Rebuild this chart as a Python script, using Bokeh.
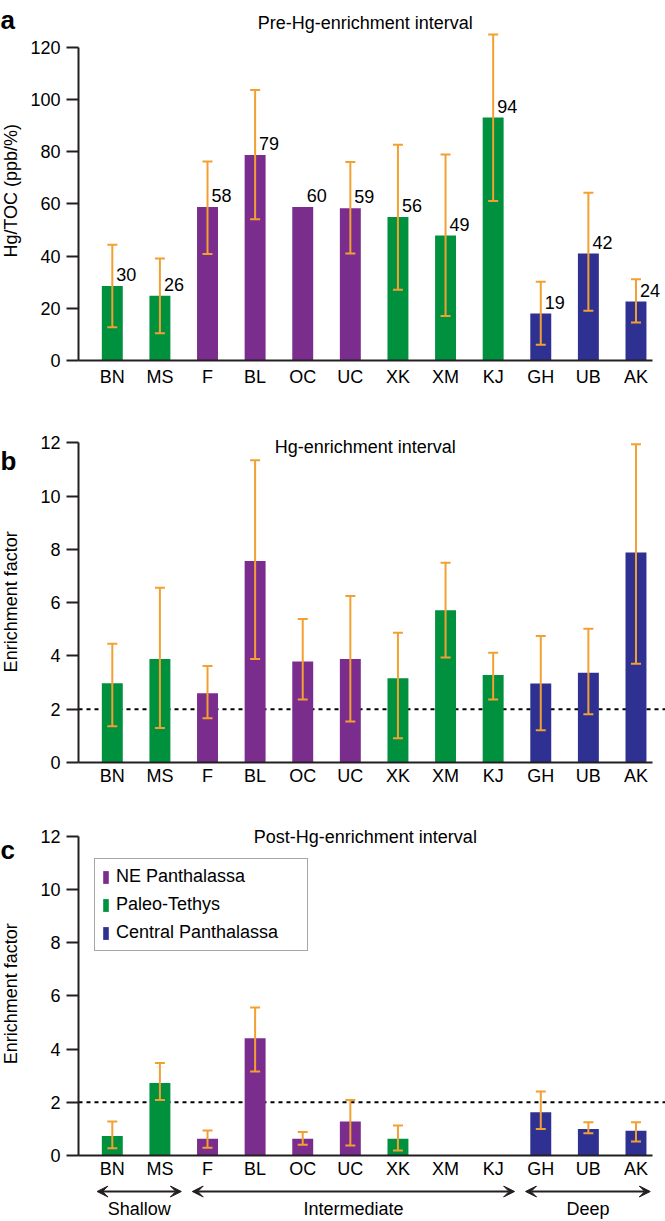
import math
from bokeh.plotting import figure
from bokeh.layouts import column, row
from bokeh.models import (Range1d, FixedTicker, ColumnDataSource, Whisker, TeeHead,
                          Span, Label, LabelSet, Arrow, VeeHead, Legend, LegendItem)
from bokeh.core.properties import value
from bokeh.embed import file_html
from bokeh.resources import INLINE

# ---------------- data ----------------
sites = ["BN", "MS", "F", "BL", "OC", "UC", "XK", "XM", "KJ", "GH", "UB", "AK"]
regions = ["Paleo-Tethys", "Paleo-Tethys", "NE Panthalassa", "NE Panthalassa",
           "NE Panthalassa", "NE Panthalassa", "Paleo-Tethys", "Paleo-Tethys",
           "Paleo-Tethys", "Central Panthalassa", "Central Panthalassa",
           "Central Panthalassa"]
depth_groups = ["Shallow", "Intermediate", "Deep"]
depth_of_site = ["Shallow"] * 2 + ["Intermediate"] * 7 + ["Deep"] * 3

pre_mean = [28.6, 24.8, 58.8, 78.8, 58.8, 58.4, 55.0, 47.9, 93.1, 18.0, 41.0, 22.6]
pre_upper = [44.4, 39.1, 76.3, 103.7, None, 76.1, 82.7, 79.0, 125.0, 30.2, 64.3, 31.1]
pre_lower = [12.7, 10.4, 40.8, 54.1, None, 41.0, 27.1, 17.1, 61.1, 6.0, 19.1, 14.6]
pre_labels = ["30", "26", "58", "79", "60", "59", "56", "49", "94", "19", "42", "24"]

hg_mean = [2.97, 3.88, 2.60, 7.56, 3.79, 3.88, 3.16, 5.71, 3.28, 2.96, 3.37, 7.88]
hg_upper = [4.46, 6.56, 3.62, 11.34, 5.38, 6.25, 4.87, 7.50, 4.12, 4.75, 5.02, 11.94]
hg_lower = [1.36, 1.29, 1.66, 3.88, 2.36, 1.54, 0.91, 3.94, 2.36, 1.21, 1.81, 3.71]

post_mean = [0.73, 2.73, 0.63, 4.41, 0.63, 1.28, 0.63, None, None, 1.63, 1.00, 0.93]
post_upper = [1.28, 3.48, 0.94, 5.56, 0.88, 2.09, 1.13, None, None, 2.41, 1.25, 1.25]
post_lower = [0.27, 2.09, 0.29, 3.16, 0.40, 0.38, 0.19, None, None, 1.00, 0.84, 0.53]

threshold = 2

# ---------------- style ----------------
FONT = "Liberation Sans"
AX = "#231f20"
ERR = "#F2A032"
region_colors = {"NE Panthalassa": "#7B2D8E", "Paleo-Tethys": "#00913F",
                 "Central Panthalassa": "#2E3192"}

XS, XE = -0.71, 11.62      # x range of the plot frames
XAX_END = 11.34            # where the drawn x axis line stops
SIDE_W = 22                # narrow strip holding panel letter + y label
PANEL_W = 665 - SIDE_W


def nan(v):
    return float("nan") if v is None else v


def side_strip(height, letter, letter_base, ylabel, ylabel_center):
    s = figure(width=SIDE_W, height=height, output_backend="svg", toolbar_location=None,
               x_range=Range1d(0, SIDE_W), y_range=Range1d(0, height),
               x_axis_location=None, y_axis_location=None, title=None,
               min_border_left=0, min_border_right=0, min_border_top=0,
               min_border_bottom=0)
    s.outline_line_color = None
    s.xgrid.visible = False
    s.ygrid.visible = False
    s.add_layout(Label(x=0, y=height - letter_base, text=letter, text_font=FONT,
                       text_font_size="26px", text_font_style="bold",
                       text_align="left", text_baseline="alphabetic",
                       text_color="black"))
    s.add_layout(Label(x=10, y=height - ylabel_center, text=ylabel, text_font=FONT,
                       text_font_size="18px", text_align="center",
                       text_baseline="middle", angle=math.pi / 2, text_color="black"))
    return s


def make_panel(title, mean, upper, lower, y_end, tick_max, tick_step,
               height, b_top, b_bottom, x_standoff, title_y, dashed):
    p = figure(width=PANEL_W, height=height, output_backend="svg", toolbar_location=None,
               x_range=Range1d(XS, XE), y_range=Range1d(0, y_end), title=None,
               min_border_left=78 - SIDE_W, min_border_right=0, min_border_top=b_top,
               min_border_bottom=b_bottom)
    p.outline_line_color = None
    p.xgrid.visible = False
    p.ygrid.visible = False

    x = list(range(len(sites)))
    src = ColumnDataSource(dict(x=x, top=[nan(v) for v in mean],
                                color=[region_colors[r] for r in regions]))
    bars = p.vbar(x="x", top="top", width=0.44, fill_color="color", line_color=None,
                  source=src)

    if dashed:
        p.add_layout(Span(location=threshold, dimension="width", line_color="black",
                          line_dash="4 4", line_width=2, level="underlay"))

    idx = [i for i in x if upper[i] is not None]
    wsrc = ColumnDataSource(dict(base=[x[i] for i in idx], upper=[upper[i] for i in idx],
                                 lower=[lower[i] for i in idx]))
    p.add_layout(Whisker(base="base", upper="upper", lower="lower", source=wsrc,
                         level="annotation", line_color=ERR, line_width=2,
                         upper_head=TeeHead(size=10, line_color=ERR, line_width=2),
                         lower_head=TeeHead(size=10, line_color=ERR, line_width=2)))

    xa = p.xaxis[0]
    xa.ticker = FixedTicker(ticks=x)
    xa.major_label_overrides = {i: s for i, s in zip(x, sites)}
    xa.bounds = (XS, XAX_END)
    xa.major_tick_line_color = None
    xa.minor_tick_line_color = None
    xa.axis_line_color = AX
    xa.axis_line_width = 2
    xa.major_label_standoff = x_standoff
    xa.major_label_text_font = FONT
    xa.major_label_text_font_size = "18px"
    xa.major_label_text_color = "black"

    ya = p.yaxis[0]
    ya.ticker = FixedTicker(ticks=list(range(0, tick_max + 1, tick_step)))
    ya.bounds = (0, tick_max)
    ya.axis_line_color = AX
    ya.axis_line_width = 2
    ya.major_tick_out = 12
    ya.major_tick_in = 0
    ya.major_tick_line_color = AX
    ya.major_tick_line_width = 2
    ya.minor_tick_line_color = None
    ya.major_label_standoff = 6
    ya.major_label_text_font = FONT
    ya.major_label_text_font_size = "18px"
    ya.major_label_text_color = "black"

    p.add_layout(Label(x=(XS + XAX_END) / 2, y=title_y, text=title, text_font=FONT,
                       text_font_size="18px", text_align="center",
                       text_baseline="alphabetic", text_color="black"))
    return p, bars, src


# panel a
HA, HB, HC, HD = 390, 400, 395, 36
pa, bars_a, src_a = make_panel("Pre-Hg-enrichment interval", pre_mean, pre_upper,
                               pre_lower, 354 / 2.609, 120, 20, HA, 6, 30, 0, 129.3, False)
src_a.data["label"] = pre_labels
pa.add_layout(LabelSet(x="x", y="top", text="label", source=src_a, x_offset=4,
                       y_offset=5, text_font=value(FONT), text_font_size="18px",
                       text_align="left", text_baseline="alphabetic",
                       text_color="black"))
sa = side_strip(HA, "a", 15, "Hg/TOC (ppb/%)", 203)

# panel b
pb, bars_b, _ = make_panel("Hg-enrichment interval", hg_mean, hg_upper, hg_lower,
                           340 / 26.65, 12, 2, HB, 32, 28, -3, 11.83, True)
sb = side_strip(HB, "b", 45, "Enrichment factor", 211)

# panel c
pc, bars_c, _ = make_panel("Post-Hg-enrichment interval", post_mean, post_upper,
                           post_lower, 340 / 26.6, 12, 2, HC, 25, 30, -3, 11.97, True)
sc = side_strip(HC, "c", 40, "Enrichment factor", 207)

legend = Legend(items=[
    LegendItem(label="NE Panthalassa", renderers=[bars_c],
               index=regions.index("NE Panthalassa")),
    LegendItem(label="Paleo-Tethys", renderers=[bars_c],
               index=regions.index("Paleo-Tethys")),
    LegendItem(label="Central Panthalassa", renderers=[bars_c],
               index=regions.index("Central Panthalassa")),
], location=(16, 204))
legend.border_line_color = "#4d4d4d"
legend.border_line_width = 1.5
legend.background_fill_color = "white"
legend.background_fill_alpha = 1
legend.padding = 7
legend.spacing = 7
legend.margin = 0
legend.glyph_width = 7
legend.glyph_height = 16
legend.label_standoff = 7
legend.label_width = 184
legend.label_text_font = FONT
legend.label_text_font_size = "18px"
legend.label_text_color = "black"
pc.add_layout(legend, "center")

# depth zone arrows (own strip, same x scale as the panels)
pd = figure(width=665, height=HD, output_backend="svg", toolbar_location=None,
            x_range=Range1d(XS, XE), y_range=Range1d(0, HD), title=None,
            x_axis_location=None, y_axis_location=None,
            min_border_left=78, min_border_right=0, min_border_top=0, min_border_bottom=0)
pd.outline_line_color = None
pd.xgrid.visible = False
pd.ygrid.visible = False
for g in depth_groups:
    members = [i for i, d in enumerate(depth_of_site) if d == g]
    lo = members[0] - 0.32
    hi = min(members[-1] + 0.45, XAX_END - 0.04)
    pd.add_layout(Arrow(x_start=lo, y_start=HD - 6, x_end=hi, y_end=HD - 6,
                        line_color=AX, line_width=2,
                        start=VeeHead(size=11, fill_color=AX, line_color=AX, line_width=1),
                        end=VeeHead(size=11, fill_color=AX, line_color=AX, line_width=1)))
    pd.add_layout(Label(x=(lo + hi) / 2, y=HD - 23, text=g, text_font=FONT,
                        text_font_size="18px", text_align="center",
                        text_baseline="middle", text_color="black"))

layout = column(row(sa, pa), row(sb, pb), row(sc, pc), pd)
open("out.html", "w").write(file_html(layout, INLINE))
